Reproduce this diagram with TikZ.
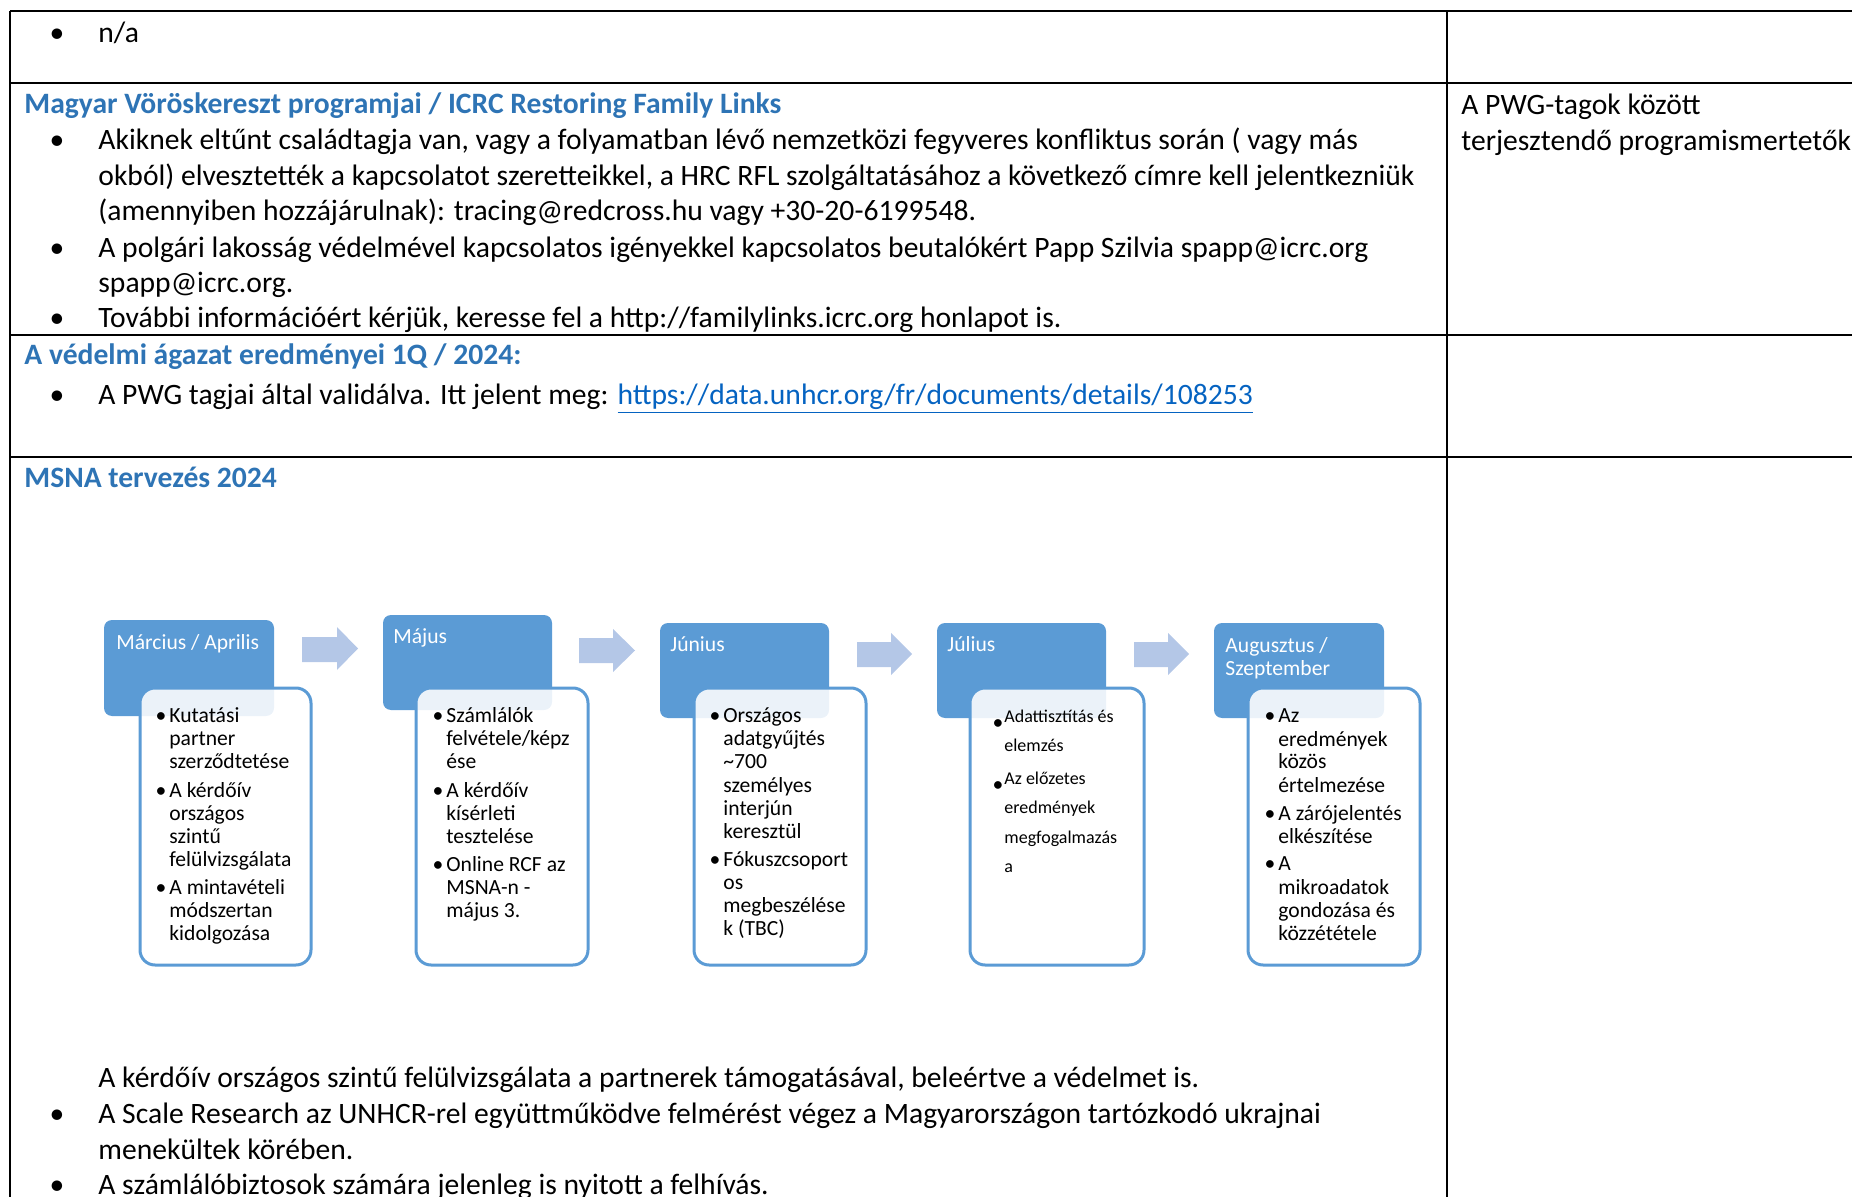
\documentclass[tikz,border=0pt]{standalone}
\usepackage{fontspec}
\setmainfont{Carlito}
\usepackage{xcolor}
\definecolor{smartblue}{RGB}{91,155,213}
\definecolor{arrowblue}{RGB}{180,199,231}
\definecolor{headblue}{RGB}{46,116,181}
\definecolor{linkblue}{RGB}{5,99,193}

\tikzset{
  bodytxt/.style={anchor=base west, inner sep=0pt, font=\fontsize{14.8}{18}\selectfont},
  headtxt/.style={anchor=base west, inner sep=0pt, font=\fontsize{14.8}{18}\selectfont\bfseries, text=headblue},
  bodybul/.style={anchor=base, inner sep=0pt, font=\fontsize{14.8}{18}\selectfont},
  boxtxt/.style={anchor=base west, inner sep=0pt, font=\fontsize{10.8}{12}\selectfont},
  boxbul/.style={anchor=base, inner sep=0pt, font=\fontsize{10.8}{12}\selectfont},
  smalltxt/.style={anchor=base west, inner sep=0pt, font=\fontsize{9}{10}\selectfont},
  monthtxt/.style={anchor=base west, inner sep=0pt, font=\fontsize{10.8}{12}\selectfont, text=white},
  monthbox/.style={fill=smartblue, rounded corners=4pt},
  taskbox/.style={draw=smartblue, line width=1.5pt, fill=white, fill opacity=0.88, rounded corners=7.5pt},
  flowarrow/.style={fill=arrowblue, draw=none},
  rule/.style={line width=0.9pt},
}

\begin{document}
\begin{tikzpicture}[x=0.5pt,y=0.5pt,yscale=-1,xscale=1]
  \useasboundingbox (0,0) rectangle (1852,1197);

  %Straight Lines (table)
  \draw[rule] (10,11) -- (1852,11) ;
  \draw[rule] (10,83) -- (1852,83) ;
  \draw[rule] (10,335) -- (1852,335) ;
  \draw[rule] (10,457) -- (1852,457) ;
  \draw[rule] (10,11) -- (10,1197) ;
  \draw[rule] (1447,11) -- (1447,1197) ;

  % Text Node: n/a
  \node[bodybul] (nabul) at (57,43) {•};
  \node[bodytxt] (na) at (98,43) {n/a};

  % Text Node: Red Cross
  \node[headtxt] (rfl) at (24,114) {Magyar Vöröskereszt programjai / ICRC Restoring Family Links};
  \node[bodybul] (rflbul1) at (57,150) {•};
  \node[bodytxt] (rfl1a) at (98,150) {Akiknek eltűnt családtagja van, vagy a folyamatban lévő nemzetközi fegyveres konfliktus során ( vagy más};
  \node[bodytxt] (rfl1b) at (98,186) {okból) elvesztették a kapcsolatot szeretteikkel, a HRC RFL szolgáltatásához a következő címre kell jelentkezniük};
  \node[bodytxt] (rfl1c) at (98,221) {(amennyiben hozzájárulnak): tracing@redcross.hu vagy +30-20-6199548.};
  \node[bodybul] (rflbul2) at (57,258) {•};
  \node[bodytxt] (rfl2a) at (98,258) {A polgári lakosság védelmével kapcsolatos igényekkel kapcsolatos beutalókért Papp Szilvia spapp@icrc.org};
  \node[bodytxt] (rfl2b) at (98,293) {spapp@icrc.org.};
  \node[bodybul] (rflbul3) at (57,328) {•};
  \node[bodytxt] (rfl3) at (98,328) {További információért kérjük, keresse fel a http://familylinks.icrc.org honlapot is.};
  \node[bodytxt] (pwg1) at (1461,115) {A PWG-tagok között};
  \node[bodytxt] (pwg2) at (1461,151) {terjesztendő programismertetők};

  % Text Node: 1Q results
  \node[headtxt] (vedelmi) at (24,365) {A védelmi ágazat eredményei 1Q / 2024:};
  \node[bodybul] (vedbul) at (57,405) {•};
  \node[bodytxt] (ved1) at (98,405) {A PWG tagjai által validálva. Itt jelent meg: \textcolor{linkblue}{\underline{https://data.unhcr.org/fr/documents/details/108253}}};

  % Text Node: MSNA
  \node[headtxt] (msna) at (24,488) {MSNA tervezés 2024};

  %Shape: Rounded Rectangles (months)
  \fill[monthbox] (104,620) rectangle (274,716) ;
  \fill[monthbox] (383,615) rectangle (552,710) ;
  \fill[monthbox] (660,623) rectangle (829,718) ;
  \fill[monthbox] (937,623) rectangle (1106,718) ;
  \fill[monthbox] (1214,623) rectangle (1384,718) ;

  \node[monthtxt] (mar) at (116,649) {Március / Aprilis};
  \node[monthtxt] (maj) at (393,643) {Május};
  \node[monthtxt] (jun) at (670,651) {Június};
  \node[monthtxt] (jul) at (947,651) {Július};
  \node[monthtxt] (aug) at (1225,652) {Augusztus /};
  \node[monthtxt] (szep) at (1225,675) {Szeptember};

  %Shape: Right Arrows
  \fill[flowarrow] (302,637) -- (337,637) -- (337,627) -- (358,648.5) -- (337,670) -- (337,662) -- (302,662) -- cycle ;
  \fill[flowarrow] (579,638) -- (613,638) -- (613,629) -- (635,650.5) -- (613,672) -- (613,663) -- (579,663) -- cycle ;
  \fill[flowarrow] (857,642) -- (891,642) -- (891,633) -- (912,654) -- (891,675) -- (891,667) -- (857,667) -- cycle ;
  \fill[flowarrow] (1134,642) -- (1168,642) -- (1168,633) -- (1189,654) -- (1168,675) -- (1168,667) -- (1134,667) -- cycle ;

  %Shape: Rounded Rectangles (tasks)
  \draw[taskbox] (140,688) rectangle (311,965) ;
  \draw[taskbox] (416,688) rectangle (588,965) ;
  \draw[taskbox] (694,688) rectangle (866,965) ;
  \draw[taskbox] (970,688) rectangle (1144,965) ;
  \draw[taskbox] (1248,688) rectangle (1420,965) ;

  % Text Node: Marcius / Aprilis
  \foreach \yy [count=\k] in {722,797,894}
    \node[boxbul] (mardot\k) at (161,\yy) {•};
  \foreach \yy/\txt [count=\k] in {722/Kutatási,745/partner,768/szerződtetése,797/A kérdőív,820/országos,843/szintű,866/felülvizsgálata,894/A mintavételi,917/módszertan,940/kidolgozása}
    \node[boxtxt] (marln\k) at (169,\yy) {\txt};

  % Text Node: Majus
  \foreach \yy [count=\k] in {722,797,871}
    \node[boxbul] (majdot\k) at (438,\yy) {•};
  \foreach \yy/\txt [count=\k] in {722/Számlálók,745/{felvétele/képz},768/ése,797/A kérdőív,820/kísérleti,843/tesztelése,871/Online RCF az,894/MSNA-n -,917/május 3.}
    \node[boxtxt] (majln\k) at (446,\yy) {\txt};

  % Text Node: Junius
  \foreach \yy [count=\k] in {722,866}
    \node[boxbul] (jundot\k) at (715,\yy) {•};
  \foreach \yy/\txt [count=\k] in {722/Országos,745/adatgyűjtés,768/\textasciitilde 700,792/személyes,815/interjún,838/keresztül,866/Fókuszcsoport,889/os,912/megbeszélése,935/k (TBC)}
    \node[boxtxt] (junln\k) at (723,\yy) {\txt};

  % Text Node: Julius
  \foreach \yy [count=\k] in {729,791}
    \node[boxbul] (juldot\k) at (998,\yy) {•};
  \foreach \yy/\txt [count=\k] in {722/Adattisztítás és,751/elemzés,784/Az előzetes,813/eredmények,843/megfogalmazás,872/a}
    \node[smalltxt] (julln\k) at (1004,\yy) {\txt};

  % Text Node: Augusztus / Szeptember
  \foreach \yy [count=\k] in {722,820,870}
    \node[boxbul] (augdot\k) at (1270,\yy) {•};
  \foreach \yy/\txt [count=\k] in {722/Az,746/eredmények,768/közös,792/értelmezése,820/A zárójelentés,843/elkészítése,870/A,894/mikroadatok,917/gondozása és,940/közzététele}
    \node[boxtxt] (augln\k) at (1278,\yy) {\txt};

  % Text Node: notes below
  \node[bodytxt] (note1) at (98,1087) {A kérdőív országos szintű felülvizsgálata a partnerek támogatásával, beleértve a védelmet is.};
  \node[bodybul] (notebul2) at (57,1123) {•};
  \node[bodytxt] (note2a) at (98,1123) {A Scale Research az UNHCR-rel együttműködve felmérést végez a Magyarországon tartózkodó ukrajnai};
  \node[bodytxt] (note2b) at (98,1159) {menekültek körében.};
  \node[bodybul] (notebul3) at (57,1194) {•};
  \node[bodytxt] (note3) at (98,1194) {A számlálóbiztosok számára jelenleg is nyitott a felhívás.};

\end{tikzpicture}
\end{document}
